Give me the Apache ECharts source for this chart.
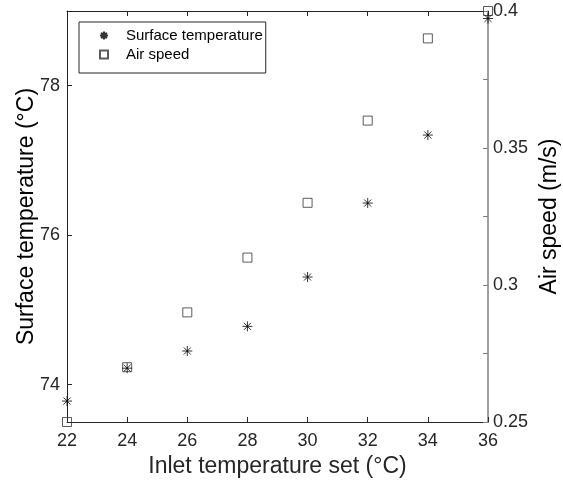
<!DOCTYPE html>
<html>
<head>
<meta charset="utf-8">
<script src="https://cdn.jsdelivr.net/npm/echarts@6/dist/echarts.min.js"></script>
<style>
html,body{margin:0;padding:0;background:#fff;}
#chart{width:563px;height:485px;}
</style>
</head>
<body>
<div id="chart"></div>
<script>
const inletTemps = [22, 24, 26, 28, 30, 32, 34, 36];
const surfaceTemp = [73.78, 74.22, 74.45, 74.78, 75.44, 76.43, 77.34, 78.90];
const airSpeed = [0.25, 0.27, 0.29, 0.31, 0.33, 0.36, 0.39, 0.40];
const leftTicks = [74, 76, 78];
const rightLabels = [0.25, 0.3, 0.35, 0.4];

const FONT = '"Liberation Sans", Arial, Helvetica, sans-serif';
const ASTERISK = 'path://M0,-10L0,10M-10,0L10,0M-7.07,-7.07L7.07,7.07M-7.07,7.07L7.07,-7.07';

const chart = echarts.init(document.getElementById('chart'), null, {renderer: 'canvas'});
chart.setOption({
  animation: false,
  backgroundColor: '#fff',
  textStyle: {fontFamily: FONT},
  grid: {left: 67, top: 11, right: 75, bottom: 63, containLabel: false, outerBoundsMode: 'none'},
  legend: {
    orient: 'vertical',
    left: 79, top: 22,
    padding: [5, 3, 10, 20],
    itemGap: 2,
    itemWidth: 8, itemHeight: 8,
    backgroundColor: '#fff',
    borderColor: '#262626',
    borderWidth: 1,
    borderRadius: 0,
    textStyle: {fontFamily: FONT, fontSize: 15, color: '#000', padding: [0, 0, 0, 13], lineHeight: 17},
    data: [
      {name: 'Surface temperature', icon: ASTERISK},
      {name: 'Air speed', icon: 'rect'}
    ]
  },
  xAxis: [{
    type: 'value', min: 22, max: 36, interval: 2, position: 'bottom',
    name: 'Inlet temperature set (°C)', nameLocation: 'middle', nameGap: 33, nameMoveOverlap: false,
    nameTextStyle: {fontFamily: FONT, fontSize: 23, color: '#262626'},
    axisLine: {show: true, lineStyle: {color: '#262626', width: 1}},
    axisTick: {show: true, inside: true, length: 5, lineStyle: {color: '#262626'}},
    axisLabel: {fontFamily: FONT, fontSize: 18, color: '#262626', margin: 10},
    splitLine: {show: false}
  }, {
    type: 'value', min: 22, max: 36, interval: 2, position: 'top',
    axisLine: {show: true, lineStyle: {color: '#262626', width: 1}},
    axisTick: {show: true, inside: true, length: 5, lineStyle: {color: '#262626'}},
    axisLabel: {show: false},
    splitLine: {show: false}
  }],
  yAxis: [{
    type: 'value', min: 73.5, max: 79, position: 'left',
    name: 'Surface temperature (°C)', nameLocation: 'middle', nameGap: 29, nameMoveOverlap: false,
    nameTextStyle: {fontFamily: FONT, fontSize: 23, color: '#000'},
    axisLine: {show: true, lineStyle: {color: '#262626', width: 1}},
    axisTick: {show: true, inside: true, length: 5, customValues: leftTicks, lineStyle: {color: '#262626'}},
    axisLabel: {fontFamily: FONT, fontSize: 18, color: '#262626', margin: 7, customValues: leftTicks},
    splitLine: {show: false}
  }, {
    type: 'value', min: 0.25, max: 0.4, interval: 0.025, position: 'right',
    name: 'Air speed (m/s)', nameLocation: 'middle', nameGap: 50, nameMoveOverlap: false,
    nameTextStyle: {fontFamily: FONT, fontSize: 23, color: '#000'},
    axisLine: {show: true, lineStyle: {color: '#808080', width: 1.5}},
    axisTick: {show: true, inside: true, length: 5, lineStyle: {color: '#808080'}},
    axisLabel: {
      fontFamily: FONT, fontSize: 18, color: '#262626', margin: 5,
      formatter: function (v) {
        for (const r of rightLabels) { if (Math.abs(v - r) < 1e-6) return String(r); }
        return '';
      }
    },
    splitLine: {show: false}
  }],
  series: [{
    name: 'Surface temperature',
    type: 'scatter',
    xAxisIndex: 0, yAxisIndex: 0,
    symbol: ASTERISK,
    symbolSize: 10,
    itemStyle: {color: 'transparent', borderColor: '#000', borderWidth: 1},
    data: inletTemps.map((x, i) => [x, surfaceTemp[i]]),
    z: 3
  }, {
    name: 'Air speed',
    type: 'scatter',
    xAxisIndex: 0, yAxisIndex: 1,
    symbol: 'rect',
    symbolSize: 9,
    itemStyle: {color: 'transparent', borderColor: '#333', borderWidth: 1},
    data: inletTemps.map((x, i) => [x, airSpeed[i]]),
    clip: false,
    z: 2
  }]
});
</script>
</body>
</html>
